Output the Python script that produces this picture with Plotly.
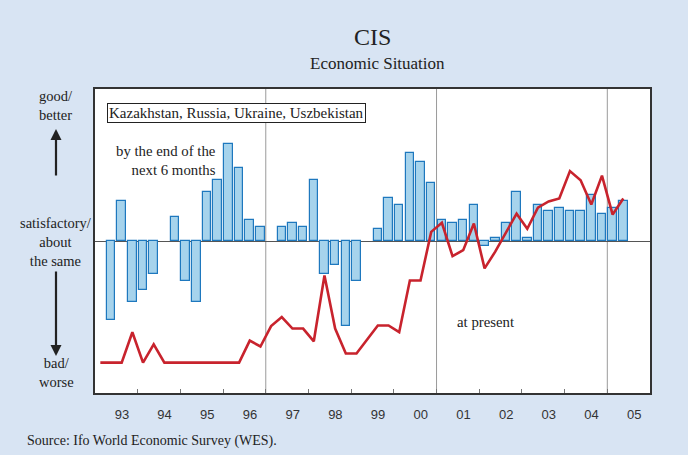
import plotly.graph_objects as go

# ---- data (quarterly, 1993Q1 .. 2005Q2) ----
years = list(range(1993, 2006))
quarters = [(y, q) for y in years for q in range(1, 5)][:50]

# Expectations (by the end of the next 6 months) - bars
expect = [None, -52, 26, -40,
          -32, -22, None, 16,
          -26, -40, 32, 40,
          64, 48, 13.5, 9.5,
          None, 9.5, 12, 9.5,
          40, -22, -16, -56,
          -26, None, 8, 28,
          24, 58, 52, 38,
          13.5, 12, 13.5, 24,
          -3.6, 2.3, 12, 32,
          2.3, 24, 20, 22,
          20, 20, 30, 18,
          22, 26]

# Present situation - line
present = [-80, -80, -80, -60,
           -80, -68, -80, -80,
           -80, -80, -80, -80,
           -80, -80, -65.5, -69.4,
           -56, -50, -57.6, -57.6,
           -66, -22.7, -57.6, -74,
           -74, -64.8, -55.6, -55.6,
           -60, -26, -26, 6,
           12, -10, -6, 11.5,
           -18, -7, 5.6, 18,
           8, 22, 26, 28,
           46, 40, 24, 43,
           17.4, 28]

year_labels = ["93", "94", "95", "96", "97", "98", "99", "00", "01", "02", "03", "04", "05"]
grid_years = [1997, 2001, 2005]

xq = [y + (q - 0.5) / 4 for (y, q) in quarters]

BG = "#d8e4f3"
SERIF = "Liberation Serif, Times New Roman, serif"
SANS = "Liberation Sans, Arial, sans-serif"
TXT = "#222"

fig = go.Figure()
fig.add_trace(go.Bar(
    x=xq, y=expect, width=0.2,
    marker=dict(color="#a6d3ec", line=dict(color="#1e78be", width=1.2)),
    showlegend=False, hoverinfo="skip"))
fig.add_trace(go.Scatter(
    x=xq, y=present, mode="lines",
    line=dict(color="#c8232d", width=2.6),
    showlegend=False, hoverinfo="skip"))

W, H = 688, 455
L, R, T, B = 95, 650, 89, 393


def px(xp):
    return (xp - L) / (R - L)


def py(yp):
    return (B - yp) / (B - T)


for gy in grid_years:
    fig.add_shape(type="line", xref="x", yref="paper", x0=gy, x1=gy, y0=0, y1=1,
                  line=dict(color="#9a9a9a", width=1), layer="below")

ann = []
ann.append(dict(text="CIS", x=px(372), y=py(37), xref="paper", yref="paper",
                xanchor="center", yanchor="middle", showarrow=False,
                font=dict(family=SERIF, size=24, color=TXT)))
ann.append(dict(text="Economic Situation", x=px(377), y=py(63), xref="paper", yref="paper",
                xanchor="center", yanchor="middle", showarrow=False,
                font=dict(family=SERIF, size=17, color=TXT)))
ann.append(dict(text="Kazakhstan, Russia, Ukraine, Uszbekistan", x=px(107), y=py(102.5),
                xref="paper", yref="paper", xanchor="left", yanchor="top", showarrow=False,
                bgcolor="white", bordercolor="#222", borderwidth=1, borderpad=1,
                font=dict(family=SERIF, size=15, color=TXT)))
ann.append(dict(text="by the end of the<br>next 6 months", x=px(218), y=py(160),
                xref="paper", yref="paper", xanchor="right", yanchor="middle", align="right",
                showarrow=False, font=dict(family=SERIF, size=14.8, color=TXT)))
ann.append(dict(text="at present", x=px(455), y=py(322), xref="paper", yref="paper",
                xanchor="left", yanchor="middle", showarrow=False,
                font=dict(family=SERIF, size=14.8, color=TXT)))
# left side labels
for txt, yc in [("good/<br>better", 105), ("satisfactory/<br>about<br>the same", 242),
                ("bad/<br>worse", 372)]:
    ann.append(dict(text=txt, x=px(56), y=py(yc), xref="paper", yref="paper",
                    xanchor="center", yanchor="middle", align="center", showarrow=False,
                    font=dict(family=SERIF, size=14.5, color=TXT)))
# arrows
ann.append(dict(text="", x=px(56), y=py(129), xref="paper", yref="paper",
                ax=0, ay=48, showarrow=True, arrowhead=2, arrowsize=1, arrowwidth=2.2,
                arrowcolor="#222"))
ann.append(dict(text="", x=px(56), y=py(356), xref="paper", yref="paper",
                ax=0, ay=-86, showarrow=True, arrowhead=2, arrowsize=1, arrowwidth=2.2,
                arrowcolor="#222"))
ann.append(dict(text="Source: Ifo World Economic Survey (WES).", x=px(25), y=py(441),
                xref="paper", yref="paper", xanchor="left", yanchor="middle", showarrow=False,
                font=dict(family=SERIF, size=14, color=TXT)))

fig.update_layout(
    width=W, height=H,
    margin=dict(l=L, r=W - R, t=T, b=H - B),
    paper_bgcolor=BG, plot_bgcolor="white",
    bargap=0, annotations=ann,
    xaxis=dict(range=[1993, 2006], showgrid=False, zeroline=False,
               tickmode="array", tickvals=[y + 0.63 for y in years], ticktext=year_labels,
               ticks="outside", ticklen=9, tickcolor="rgba(0,0,0,0)",
               tickfont=dict(family=SANS, size=13, color="#333"),
               showline=True, mirror=True, linecolor="#333", linewidth=1.5,
               minor=dict(tickmode="array", tickvals=list(range(1994, 2006)),
                          ticks="inside", ticklen=4, tickcolor="#777", tickwidth=1)),
    yaxis=dict(range=[-100, 100], showgrid=False, showticklabels=False, ticks="",
               zeroline=True, zerolinecolor="#555", zerolinewidth=1,
               showline=True, mirror=True, linecolor="#333", linewidth=1.5),
)

fig.write_html("out.html", config={"displayModeBar": False},
               post_script="document.body.style.margin='0px';")
